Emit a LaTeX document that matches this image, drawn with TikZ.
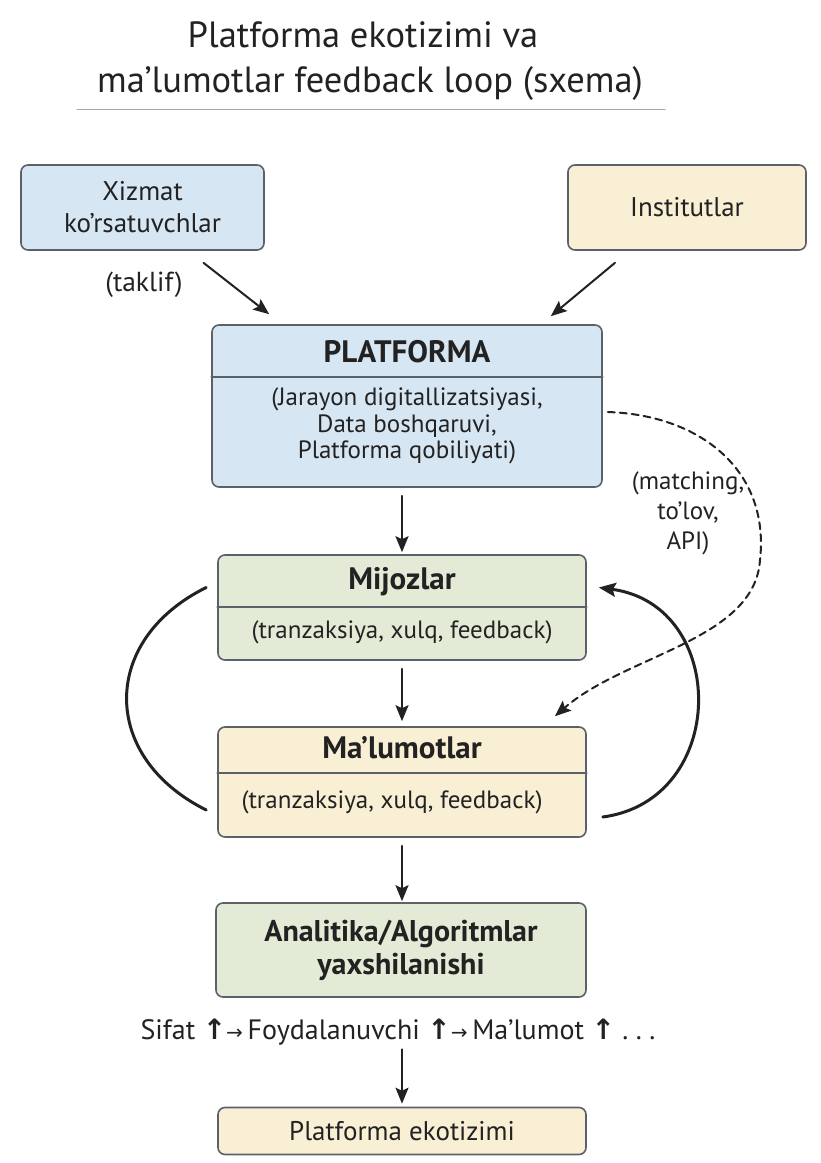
\documentclass[tikz,border=0pt]{standalone}
\usepackage{fontspec}
\setmainfont{PT Sans}
\newfontfamily\symfont{DejaVu Sans}
\usetikzlibrary{arrows.meta,calc}

\definecolor{blufill}{HTML}{D6E6F3}
\definecolor{yelfill}{HTML}{F8EFD5}
\definecolor{grnfill}{HTML}{E3EBD7}
\definecolor{boxedge}{HTML}{5A6168}
\definecolor{inkk}{HTML}{222222}

\newcommand{\chainup}{{\symfont\bfseries ↑}}
\newcommand{\chainto}{{\symfont\fontsize{20}{22}\selectfont →}}

\tikzset{
  box/.style={draw=boxedge, line width=1.6pt, rounded corners=7pt, inner sep=0pt, align=center, text=inkk},
  blubox/.style={box, fill=blufill},
  yelbox/.style={box, fill=yelfill},
  grnbox/.style={box, fill=grnfill},
  head/.style={font=\fontsize{31}{35}\selectfont\bfseries, text=inkk, inner sep=0pt, align=center},
  body/.style={font=\fontsize{25}{26.5}\selectfont, text=inkk, inner sep=0pt, align=center},
  sep/.style={draw=boxedge, line width=1.6pt},
  arr/.style={-{Stealth[length=16pt,width=13pt,inset=3pt]}, line width=2pt, draw=inkk},
  loopline/.style={line width=3pt, draw=inkk},
}

\begin{document}
\begin{tikzpicture}[x=1pt, y=-1pt, line join=round, line cap=round, font=\fontsize{27}{32}\selectfont]
  \useasboundingbox (0,0) rectangle (821,1163);
  %Sarlavha.
  \node[anchor=base, font=\fontsize{36.5}{40}\selectfont, text=inkk] (title1) at (363,47) {Platforma ekotizimi va};
  \node[anchor=base, font=\fontsize{36.5}{40}\selectfont, text=inkk] (title2) at (370,92) {ma'lumotlar feedback loop (sxema)};
  \draw[draw=gray!70, line width=1pt] (77,109) -- (665,109);
  %Yuqori bloklar.
  \node[blubox, minimum width=243, minimum height=85] (xizmat) at (142.5,207.5) {Xizmat\\ko'rsatuvchlar};
  \node[yelbox, minimum width=238, minimum height=85] (inst) at (687,207.5) {Institutlar};
  %Platforma.
  \node[blubox, minimum width=390, minimum height=162] (plat) at (407,406) {};
  \node[head] (platH) at (407,352) {PLATFORMA};
  \draw[sep] (plat.west |- 0,377) -- (plat.east |- 0,377);
  \node[body] (platB) at (407,426) {(Jarayon digitallizatsiyasi,\\Data boshqaruvi,\\Platforma qobiliyati)};
  %Mijozlar.
  \node[grnbox, minimum width=368, minimum height=105] (mij) at (402,607.5) {};
  \node[head] (mijH) at (402,582) {Mijozlar};
  \draw[sep] (mij.west |- 0,607) -- (mij.east |- 0,607);
  \node[body] (mijB) at (402,632) {(tranzaksiya, xulq, feedback)};
  %Ma'lumotlar.
  \node[yelbox, minimum width=368, minimum height=110] (mal) at (402,782) {};
  \node[head] (malH) at (402,748) {Ma'lumotlar};
  \draw[sep] (mal.west |- 0,773) -- (mal.east |- 0,773);
  \node[body] (malB) at (392,802) {(tranzaksiya, xulq, feedback)};
  %Analitika.
  \node[grnbox, minimum width=370, minimum height=94, font=\fontsize{30}{33}\selectfont\bfseries] (anal) at (401,950) {Analitika/Algoritmlar\\yaxshilanishi};
  \node[inner sep=0pt, text=inkk, font=\fontsize{28}{32}\selectfont] (chain) at (398,1032) {Sifat \chainup\chainto\,Foydalanuvchi \chainup\chainto\,Ma'lumot \chainup\ .\ .\ .};
  \node[yelbox, minimum width=368, minimum height=47] (eko) at (402,1131) {Platforma ekotizimi};
  %Strelkalar.
  \draw[arr] ($(xizmat.south)+(61,12)$) -- ($(plat.north west)+(58,-10)$);
  \node[text=inkk, font=\fontsize{27.5}{32}\selectfont] (taklif) at (144,285) {(taklif)};
  \draw[arr] ($(inst.south)+(-72,12)$) -- ($(plat.north east)+(-52,-8)$);
  \draw[arr, shorten <=8pt, shorten >=2pt] (mij.north |- plat.south) -- (mij.north);
  \draw[arr, shorten <=8pt, shorten >=5pt] (mij.south) -- (mal.north);
  \draw[arr, shorten <=8pt, shorten >=1pt] (mal.south) -- (mal.south |- anal.north);
  \draw[arr, shorten <=4pt, shorten >=3pt] (eko.north |- chain.south) -- (eko.north);
  %Feedback halqasi.
  \draw[loopline] ($(mij.west)+(-11,-20)$) .. controls (100,640) and (100,757) .. ($(mal.west)+(-11,28)$);
  \draw[loopline, -{Stealth[length=17pt,width=14pt,inset=3pt]}] ($(mal.east)+(16,35)$) .. controls (729,800) and (729,605) .. ($(mij.east)+(12,-20)$);
  %Matching.
  \draw[arr, dash pattern=on 7pt off 5pt] ($(plat.east)+(5,6)$) .. controls (700,415) and (770,470) .. (760,560) .. controls (755,640) and (625,655) .. ($(mal.north)+(153,-10)$);
  \node[font=\fontsize{25}{30}\selectfont, text=inkk, align=center] (match) at (688,513) {(matching,\\to'lov,\\API)};
\end{tikzpicture}
\end{document}
